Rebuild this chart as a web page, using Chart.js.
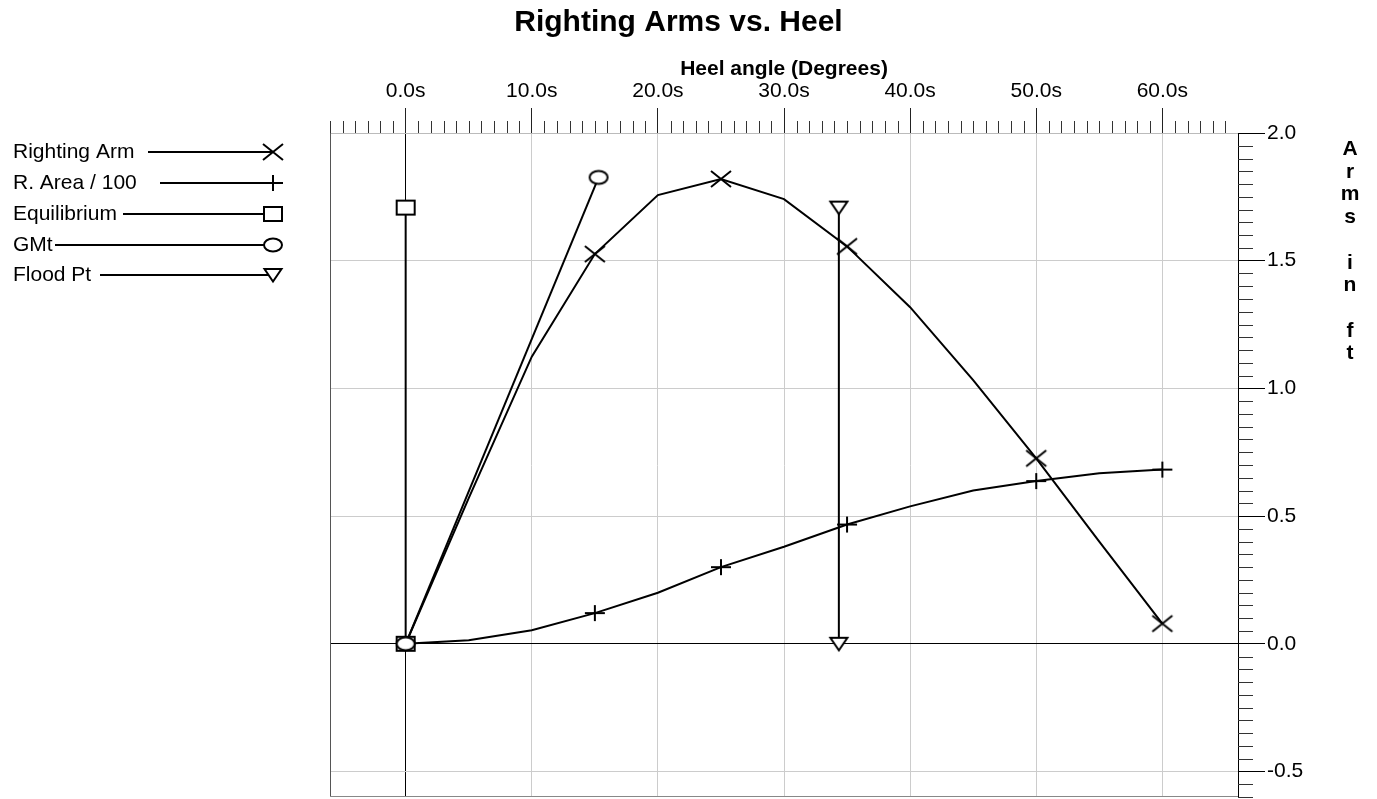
<!DOCTYPE html>
<html>
<head>
<meta charset="utf-8">
<title>Righting Arms vs. Heel</title>
<script src="https://cdn.jsdelivr.net/npm/chart.js@4.4.0/dist/chart.umd.min.js"></script>
<style>
  html, body { margin: 0; padding: 0; background: #fff; }
</style>
</head>
<body>
<canvas id="myChart" width="1377" height="799"></canvas>
<script>
'use strict';

// heel angles (degrees) and the two curves
var heelAngles = [0, 5, 10, 15, 20, 25, 30, 35, 40, 45, 50, 55, 60];
var rightingArm = [0, 0.57, 1.124, 1.526, 1.757, 1.82, 1.741, 1.556, 1.318, 1.032, 0.726, 0.40, 0.079];
var rightingArea = [0, 0.014, 0.053, 0.12, 0.20, 0.30, 0.38, 0.467, 0.538, 0.60, 0.637, 0.668, 0.682];
var markedAngles = [15, 25, 35, 50, 60];

var equilibriumX = [0, 0];
var equilibriumY = [0, 1.708];
var gmtX = [0, 15.3];
var gmtY = [0, 1.826];
var floodX = [34.35, 34.35];
var floodY = [0, 1.708];

var xTicks = [0, 10, 20, 30, 40, 50, 60];
var yTicks = [-0.5, 0, 0.5, 1.0, 1.5, 2.0];
var yTitleLetters = ['A', 'r', 'm', 's', '', 'i', 'n', '', 'f', 't'];

Chart.defaults.font.family = '"Liberation Sans", Arial, sans-serif';
Chart.defaults.color = '#000';

function makeMarker (kind) {
  var c = document.createElement('canvas');
  c.width = 24;
  c.height = 20;
  var g = c.getContext('2d');
  var cx = 12;
  var cy = 10;
  g.strokeStyle = '#000';
  g.fillStyle = '#fff';
  g.lineWidth = 2;
  g.beginPath();
  if (kind === 'x') {
    g.moveTo(cx - 10, cy - 8); g.lineTo(cx + 10, cy + 8);
    g.moveTo(cx + 10, cy - 8); g.lineTo(cx - 10, cy + 8);
    g.stroke();
  } else if (kind === 'plus') {
    g.moveTo(cx - 10, cy); g.lineTo(cx + 10, cy);
    g.moveTo(cx, cy - 8); g.lineTo(cx, cy + 8);
    g.stroke();
  } else if (kind === 'square') {
    g.rect(cx - 9, cy - 7, 18, 14);
    g.fill(); g.stroke();
  } else if (kind === 'circle') {
    g.ellipse(cx, cy, 9, 6.5, 0, 0, Math.PI * 2);
    g.fill(); g.stroke();
  } else if (kind === 'tri') {
    g.moveTo(cx - 8.5, cy - 6); g.lineTo(cx + 8.5, cy - 6); g.lineTo(cx, cy + 6.5);
    g.closePath();
    g.fill(); g.stroke();
  }
  return c;
}

var markers = {
  x: makeMarker('x'),
  plus: makeMarker('plus'),
  square: makeMarker('square'),
  circle: makeMarker('circle'),
  tri: makeMarker('tri')
};

function toPoints (xs, ys) {
  var pts = [];
  for (var i = 0; i < xs.length; i++) {
    pts.push({x: xs[i], y: ys[i]});
  }
  return pts;
}

function markedRadius (ctx) {
  return markedAngles.includes(heelAngles[ctx.dataIndex]) ? 10 : 0;
}

var legendRows = [
  {text: 'Righting Arm', marker: markers.x, y: 152, lineStart: 148},
  {text: 'R. Area / 100', marker: markers.plus, y: 183, lineStart: 160},
  {text: 'Equilibrium', marker: markers.square, y: 214, lineStart: 123},
  {text: 'GMt', marker: markers.circle, y: 245, lineStart: 55},
  {text: 'Flood Pt', marker: markers.tri, y: 275, lineStart: 100}
];

var extras = {
  id: 'extras',
  afterDraw: function (chart) {
    var ctx = chart.ctx;
    var area = chart.chartArea;
    var xs = chart.scales.x;
    var ys = chart.scales.y;
    ctx.save();

    // left and bottom frame
    ctx.lineWidth = 1;
    ctx.strokeStyle = '#555';
    ctx.beginPath();
    ctx.moveTo(Math.round(area.left) + 0.5, area.top);
    ctx.lineTo(Math.round(area.left) + 0.5, area.bottom);
    ctx.stroke();
    ctx.strokeStyle = '#888';
    ctx.beginPath();
    ctx.moveTo(area.left, Math.round(area.bottom) - 0.5);
    ctx.lineTo(area.right, Math.round(area.bottom) - 0.5);
    ctx.stroke();

    // minor ticks
    ctx.strokeStyle = '#333';
    ctx.beginPath();
    for (var d = -6; d <= 65; d++) {
      if (d % 10 === 0 && d >= 0 && d <= 60) continue;
      var px = Math.round(xs.getPixelForValue(d)) + 0.5;
      ctx.moveTo(px, area.top - 12);
      ctx.lineTo(px, area.top);
    }
    for (var k = -12; k <= 40; k++) {
      if (k % 10 === 0) continue;
      var py = Math.round(ys.getPixelForValue(k * 0.05)) + 0.5;
      ctx.moveTo(area.right, py);
      ctx.lineTo(area.right + 15, py);
    }
    ctx.stroke();

    // stacked y axis title
    ctx.fillStyle = '#000';
    ctx.font = 'bold 21px "Liberation Sans", Arial, sans-serif';
    ctx.textAlign = 'center';
    ctx.textBaseline = 'alphabetic';
    for (var i = 0; i < yTitleLetters.length; i++) {
      ctx.fillText(yTitleLetters[i], 1350, 155 + i * 22.7);
    }

    // legend
    ctx.font = '21px "Liberation Sans", Arial, sans-serif';
    ctx.textAlign = 'left';
    ctx.textBaseline = 'middle';
    ctx.lineWidth = 2;
    ctx.strokeStyle = '#000';
    legendRows.forEach(function (row) {
      ctx.fillText(row.text, 13, row.y);
      ctx.beginPath();
      ctx.moveTo(row.lineStart, row.y);
      ctx.lineTo(273, row.y);
      ctx.stroke();
      ctx.drawImage(row.marker, 273 - 12, row.y - 10);
    });

    ctx.restore();
  }
};

function lineSet (label, data, marker, radius) {
  return {
    label: label,
    data: data,
    borderColor: '#000',
    borderWidth: 2,
    tension: 0,
    fill: false,
    pointStyle: marker,
    pointRadius: radius,
    pointHoverRadius: radius
  };
}

var ctx = document.getElementById('myChart').getContext('2d');
var chart = new Chart(ctx, {
  type: 'line',
  data: {
    datasets: [
      lineSet('GMt', toPoints(gmtX, gmtY), markers.circle, 10),
      lineSet('Equilibrium', toPoints(equilibriumX, equilibriumY), markers.square, 10),
      lineSet('Flood Pt', toPoints(floodX, floodY), markers.tri, 10),
      lineSet('Righting Arm', toPoints(heelAngles, rightingArm), markers.x, markedRadius),
      lineSet('R. Area / 100', toPoints(heelAngles, rightingArea), markers.plus, markedRadius)
    ]
  },
  options: {
    responsive: false,
    animation: false,
    events: [],
    layout: {autoPadding: false, padding: {left: 0, right: 20, top: 0, bottom: 2}},
    plugins: {
      legend: {display: false},
      tooltip: {enabled: false},
      title: {
        display: true,
        text: 'Righting Arms vs. Heel',
        font: {size: 30, weight: 'bold'},
        padding: {top: 4.5, bottom: 0}
      }
    },
    scales: {
      x: {
        type: 'linear',
        position: 'top',
        min: -6,
        max: 66,
        afterBuildTicks: function (s) { s.ticks = xTicks.map(function (v) { return {value: v}; }); },
        afterFit: function (s) {
          s.height = 92.5;
          s.paddingLeft = 0;
          s.paddingRight = 0;
        },
        ticks: {
          callback: function (v) { return Number(v).toFixed(1) + 's'; },
          font: {size: 21},
          padding: 4.6,
          maxRotation: 0,
          autoSkip: false
        },
        grid: {
          color: function (c) { return c.tick && c.tick.value === 0 ? '#000' : '#ccc'; },
          tickColor: '#222',
          tickLength: 25
        },
        border: {color: '#bbb'},
        title: {
          display: true,
          text: 'Heel angle (Degrees)',
          font: {size: 21, weight: 'bold'},
          padding: {top: 15.7, bottom: 0}
        }
      },
      y: {
        type: 'linear',
        position: 'right',
        min: -0.6,
        max: 2.0,
        afterBuildTicks: function (s) { s.ticks = yTicks.map(function (v) { return {value: v}; }); },
        afterFit: function (s) {
          s.width = 119;
          s.paddingTop = 0;
          s.paddingBottom = 0;
        },
        ticks: {
          callback: function (v) { return Number(v).toFixed(1); },
          font: {size: 21},
          padding: 2
        },
        grid: {
          color: function (c) { return c.tick && c.tick.value === 0 ? '#000' : '#ccc'; },
          tickColor: '#000',
          tickLength: 27
        },
        border: {color: '#000'}
      },
      yl: {
        type: 'linear',
        axis: 'y',
        position: 'left',
        afterFit: function (s) {
          s.width = 330;
          s.paddingTop = 0;
          s.paddingBottom = 0;
        },
        ticks: {display: false},
        grid: {display: false},
        border: {display: false}
      }
    }
  },
  plugins: [extras]
});
</script>
</body>
</html>
